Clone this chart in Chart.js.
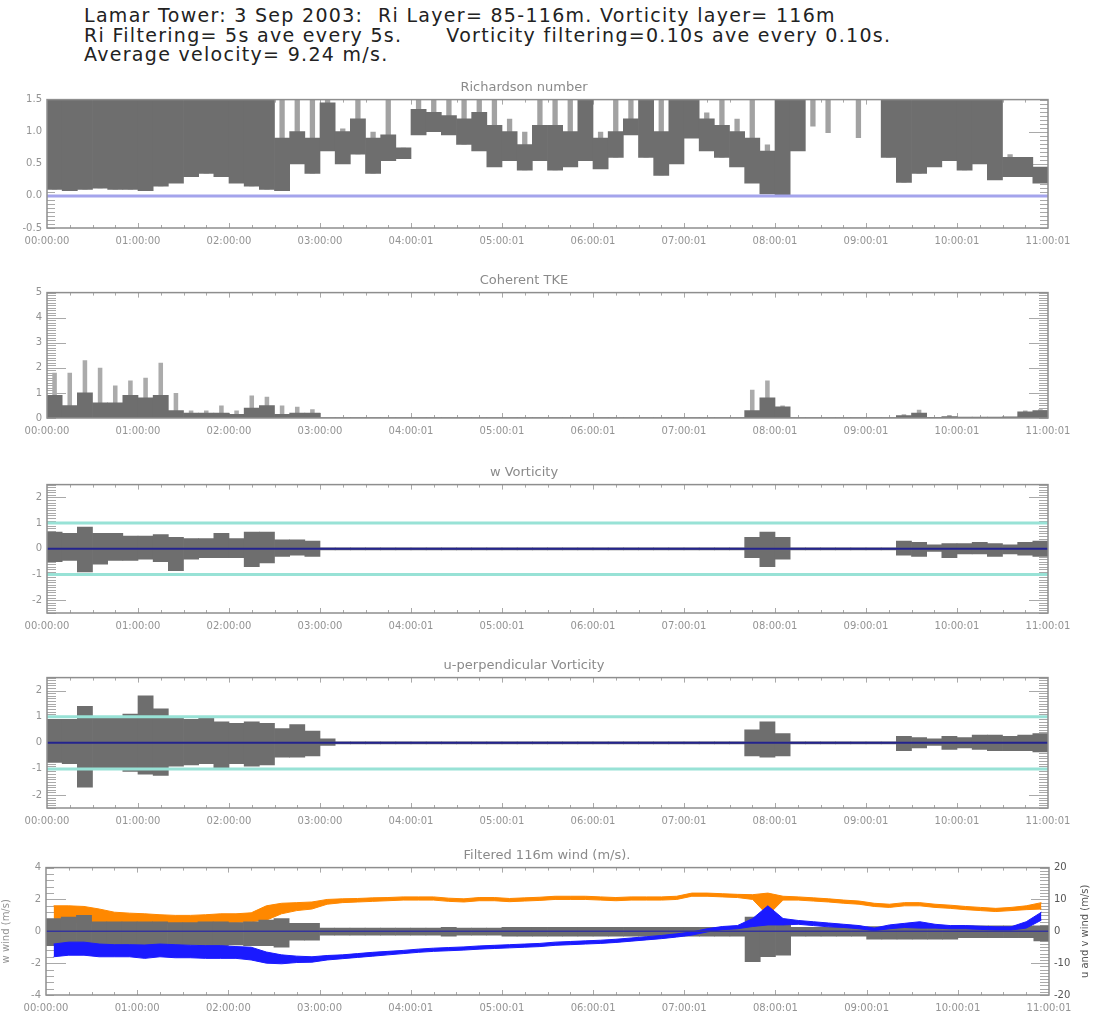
<!DOCTYPE html>
<html>
<head>
<meta charset="utf-8">
<script src="https://cdn.jsdelivr.net/npm/chart.js@4.4.0/dist/chart.umd.min.js"></script>
<style>
  body { margin: 0; background: #fff; width: 1094px; height: 1016px; position: relative; overflow: hidden; font-family: "DejaVu Sans", sans-serif; }
  #header { position: absolute; left: 84px; top: 6px; font-size: 19px; letter-spacing: 1.3px; line-height: 19.5px; color: #222; white-space: pre; }
  .panel { position: absolute; left: 0; width: 1094px; }
</style>
</head>
<body>
<div id="header">Lamar Tower: 3 Sep 2003:  Ri Layer= 85-116m. Vorticity layer= 116m
Ri Filtering= 5s ave every 5s.      Vorticity filtering=0.10s ave every 0.10s.
Average velocity= 9.24 m/s.</div>

<div class="panel" style="top:78px;height:172px"><canvas id="riChart"></canvas></div>
<div class="panel" style="top:271px;height:169px"><canvas id="tkeChart"></canvas></div>
<div class="panel" style="top:463px;height:172px"><canvas id="wvortChart"></canvas></div>
<div class="panel" style="top:656px;height:174px"><canvas id="uvortChart"></canvas></div>
<div class="panel" style="top:846px;height:171px"><canvas id="windChart"></canvas></div>

<script>
var timeLabels = ['00:00:00', '01:00:00', '02:00:00', '03:00:00', '04:00:01', '05:00:01',
                  '06:00:01', '07:00:01', '08:00:01', '09:00:01', '10:00:01', '11:00:01'];
var binHours = 10 / 60;

// Richardson number per bin: lowest value, top of the dense trace, highest spike (clipped at 1.5)
var riLow = [
  0.10, 0.08, 0.10, 0.12, 0.10, 0.10,
  0.08, 0.15, 0.20, 0.30, 0.35, 0.30,
  0.20, 0.15, 0.10, 0.08, 0.50, 0.35,
  0.70, 0.50, 0.65, 0.35, 0.55, 0.58,
  0.95, 1.00, 0.95, 0.80, 0.70, 0.45,
  0.55, 0.40, 0.55, 0.40, 0.45, 0.55,
  0.42, 0.60, 0.95, 0.60, 0.32, 0.50,
  0.90, 0.70, 0.60, 0.45, 0.20, 0.03,
  0.00, 0.70, 1.08, 0.98, null, 0.90,
  null, 0.60, 0.21, 0.35, 0.45, 0.55,
  0.40, 0.50, 0.25, 0.30, 0.30, 0.20
];
var riTyp = [
  1.5, 1.5, 1.5, 1.5, 1.5, 1.5,
  1.5, 1.5, 1.5, 1.5, 1.5, 1.5,
  1.5, 1.5, 1.5, 0.9, 1.0, 0.9,
  1.45, 1.0, 1.2, 0.9, 0.95, 0.75,
  1.35, 1.3, 1.25, 1.2, 1.3, 1.1,
  1.0, 0.8, 1.1, 1.1, 1.0, 1.5,
  0.9, 1.0, 1.2, 1.5, 1.0, 1.5,
  1.5, 1.2, 1.1, 1.0, 0.9, 0.7,
  1.5, 1.5, null, null, null, null,
  null, 1.5, 1.5, 1.5, 1.5, 1.5,
  1.5, 1.5, 1.5, 0.6, 0.6, 0.45
];
var riHigh = [
  1.5, 1.5, 1.5, 1.5, 1.5, 1.5,
  1.5, 1.5, 1.5, 1.5, 1.5, 1.5,
  1.5, 1.5, 1.5, 1.5, 1.5, 1.5,
  1.5, 1.05, 1.5, 1.0, 1.5, 0.75,
  1.5, 1.5, 1.5, 1.5, 1.5, 1.5,
  1.2, 1.0, 1.5, 1.5, 1.5, 1.5,
  1.0, 1.5, 1.5, 1.5, 1.5, 1.5,
  1.5, 1.3, 1.5, 1.2, 1.5, 0.8,
  1.5, 1.5, 1.5, 1.5, null, 1.5,
  null, 1.5, 1.5, 1.5, 1.5, 1.5,
  1.5, 1.5, 1.5, 0.65, 0.6, 0.45
];

// Coherent TKE: bulk level and isolated peaks
var tkeBase = [
  0.9, 0.5, 1.0, 0.6, 0.6, 0.9,
  0.8, 0.9, 0.3, 0.2, 0.2, 0.2,
  0.15, 0.4, 0.5, 0.15, 0.2, 0.2,
  0.02, 0.02, 0.02, 0.02, 0.02, 0.02,
  0.02, 0.02, 0.02, 0.02, 0.02, 0.02,
  0.02, 0.02, 0.02, 0.02, 0.02, 0.02,
  0.02, 0.02, 0.02, 0.02, 0.02, 0.02,
  0.02, 0.02, 0.02, 0.02, 0.3, 0.8,
  0.45, 0.02, 0.02, 0.02, 0.02, 0.02,
  0.02, 0.02, 0.1, 0.2, 0.03, 0.06,
  0.04, 0.04, 0.04, 0.05, 0.25, 0.3
];
var tkePeak = [
  1.8, 1.8, 2.3, 2.0, 1.3, 1.5,
  1.6, 2.2, 1.0, 0.3, 0.3, 0.5,
  0.3, 0.9, 0.85, 0.5, 0.45, 0.35,
  null, null, null, null, null, null,
  null, null, null, null, null, null,
  null, null, null, null, null, null,
  null, null, null, null, null, null,
  null, null, null, null, 1.13, 1.5,
  0.5, null, null, null, null, null,
  null, null, 0.15, 0.33, null, 0.12,
  null, null, null, null, 0.3, 0.35
];

// w vorticity envelope
var wVortHigh = [
  0.65, 0.6, 0.85, 0.6, 0.6, 0.5,
  0.5, 0.55, 0.45, 0.4, 0.4, 0.6,
  0.4, 0.65, 0.65, 0.35, 0.35, 0.3,
  0.04, 0.04, 0.04, 0.04, 0.04, 0.04,
  0.04, 0.04, 0.04, 0.04, 0.04, 0.04,
  0.04, 0.04, 0.04, 0.04, 0.04, 0.04,
  0.04, 0.04, 0.04, 0.04, 0.04, 0.04,
  0.04, 0.04, 0.04, 0.04, 0.45, 0.65,
  0.45, 0.04, 0.04, 0.04, 0.04, 0.04,
  0.04, 0.04, 0.3, 0.25, 0.15, 0.2,
  0.2, 0.25, 0.2, 0.15, 0.25, 0.3
];
var wVortLow = [
  -0.5, -0.45, -0.9, -0.6, -0.45, -0.45,
  -0.4, -0.5, -0.85, -0.4, -0.35, -0.35,
  -0.35, -0.7, -0.55, -0.3, -0.25, -0.3,
  -0.04, -0.04, -0.04, -0.04, -0.04, -0.04,
  -0.04, -0.04, -0.04, -0.04, -0.04, -0.04,
  -0.04, -0.04, -0.04, -0.04, -0.04, -0.04,
  -0.04, -0.04, -0.04, -0.04, -0.04, -0.04,
  -0.04, -0.04, -0.04, -0.04, -0.35, -0.7,
  -0.4, -0.04, -0.04, -0.04, -0.04, -0.04,
  -0.04, -0.04, -0.25, -0.3, -0.1, -0.35,
  -0.2, -0.2, -0.3, -0.2, -0.25, -0.3
];

// u-perpendicular vorticity envelope
var uVortHigh = [
  0.9, 0.9, 1.4, 1.0, 1.0, 1.1,
  1.8, 1.3, 1.0, 0.9, 0.95, 0.8,
  0.75, 0.8, 0.75, 0.55, 0.7, 0.45,
  0.15, 0.04, 0.04, 0.04, 0.04, 0.04,
  0.04, 0.04, 0.04, 0.04, 0.04, 0.04,
  0.04, 0.04, 0.04, 0.04, 0.04, 0.04,
  0.04, 0.04, 0.04, 0.04, 0.04, 0.04,
  0.04, 0.04, 0.04, 0.04, 0.5, 0.8,
  0.35, 0.04, 0.04, 0.04, 0.04, 0.04,
  0.04, 0.04, 0.25, 0.2, 0.15, 0.25,
  0.2, 0.3, 0.3, 0.25, 0.3, 0.35
];
var uVortLow = [
  -0.75, -0.8, -1.7, -1.0, -0.95, -1.1,
  -1.2, -1.25, -0.9, -0.85, -0.8, -1.0,
  -0.8, -0.9, -0.85, -0.55, -0.55, -0.5,
  -0.1, -0.04, -0.04, -0.04, -0.04, -0.04,
  -0.04, -0.04, -0.04, -0.04, -0.04, -0.04,
  -0.04, -0.04, -0.04, -0.04, -0.04, -0.04,
  -0.04, -0.04, -0.04, -0.04, -0.04, -0.04,
  -0.04, -0.04, -0.04, -0.04, -0.5, -0.55,
  -0.5, -0.04, -0.04, -0.04, -0.04, -0.04,
  -0.04, -0.04, -0.3, -0.2, -0.1, -0.25,
  -0.2, -0.25, -0.3, -0.3, -0.3, -0.35
];

// filtered 116m wind: w on left axis, u and v on right axis
var wWindHigh = [
  0.8, 0.9, 1.0, 0.6, 0.6, 0.6,
  0.6, 0.6, 0.55, 0.55, 0.6, 0.6,
  0.55, 0.6, 0.7, 0.8, 0.5, 0.5,
  0.2, 0.2, 0.2, 0.2, 0.2, 0.2,
  0.2, 0.2, 0.25, 0.2, 0.2, 0.2,
  0.25, 0.25, 0.25, 0.25, 0.25, 0.25,
  0.25, 0.25, 0.25, 0.25, 0.25, 0.25,
  0.25, 0.25, 0.25, 0.25, 0.9, 0.7,
  0.5, 0.25, 0.25, 0.25, 0.25, 0.25,
  0.3, 0.3, 0.3, 0.3, 0.3, 0.3,
  0.35, 0.35, 0.35, 0.35, 0.35, 0.35
];
var wWindLow = [
  -0.9, -0.9, -0.9, -0.9, -0.9, -0.85,
  -0.9, -0.9, -0.85, -0.85, -0.9, -0.9,
  -0.85, -0.9, -0.9, -1.0, -0.55, -0.55,
  -0.25, -0.25, -0.25, -0.25, -0.25, -0.25,
  -0.25, -0.25, -0.3, -0.25, -0.25, -0.25,
  -0.3, -0.3, -0.3, -0.3, -0.3, -0.3,
  -0.3, -0.3, -0.3, -0.3, -0.3, -0.3,
  -0.3, -0.3, -0.3, -0.3, -1.9, -1.6,
  -1.5, -0.3, -0.3, -0.3, -0.3, -0.3,
  -0.5, -0.5, -0.5, -0.5, -0.5, -0.5,
  -0.4, -0.4, -0.4, -0.4, -0.4, -0.6
];
var uWindHigh = [
  8.0, 8.0, 7.8, 7.0, 6.0, 5.7,
  5.5, 5.2, 5.0, 5.0, 5.2, 5.5,
  5.5, 5.8, 8.0, 8.8, 9.0, 9.2,
  10.0, 10.2, 10.3, 10.5, 10.6, 10.8,
  10.8, 10.8, 10.4, 10.2, 10.6, 10.6,
  10.3, 10.5, 10.7, 11.0, 11.0, 11.0,
  10.8, 10.6, 10.8, 10.8, 10.8, 11.0,
  12.0, 12.0, 11.8, 11.6, 11.5, 12.0,
  11.0, 10.8, 10.5, 10.2, 9.8, 9.5,
  8.8, 8.5, 9.0, 9.0, 8.5, 8.2,
  7.8, 7.5, 7.2, 7.5, 8.0, 9.0
];
var uWindLow = [
  3.0, 2.8, 2.8, 2.5, 2.5, 2.5,
  2.5, 2.5, 2.6, 2.6, 2.6, 2.8,
  2.8, 3.0, 3.5, 5.5, 6.5, 7.0,
  8.5, 9.0, 9.2, 9.4, 9.6, 9.8,
  9.8, 9.8, 9.4, 9.2, 9.6, 9.6,
  9.3, 9.5, 9.7, 10.0, 10.0, 10.0,
  9.8, 9.6, 9.8, 9.8, 9.8, 10.0,
  11.0, 11.0, 10.8, 10.6, 10.0, 5.0,
  9.8, 9.8, 9.5, 9.2, 8.8, 8.5,
  7.8, 7.5, 8.0, 8.0, 7.5, 7.2,
  6.8, 6.5, 6.2, 6.5, 6.8, 7.0
];
var vWindHigh = [
  -4.0, -3.4, -3.4, -4.0, -4.2, -4.2,
  -4.3, -4.0, -4.2, -4.4, -4.5, -4.5,
  -4.8, -5.0, -6.5, -7.4, -7.8, -8.0,
  -7.6, -7.4, -7.0, -6.6, -6.3, -6.0,
  -5.6, -5.3, -5.1, -4.9, -4.6, -4.4,
  -4.2, -4.0, -3.8, -3.4, -3.2, -3.0,
  -2.8, -2.5, -2.1, -1.7, -1.3, -0.8,
  -0.2, 0.8, 1.5, 1.8, 4.0, 8.0,
  4.0, 3.4, 3.0, 2.6, 2.2, 1.8,
  1.0, 2.0, 2.5, 3.0, 2.2, 1.8,
  1.8, 1.6, 1.4, 1.4, 3.0, 6.0
];
var vWindLow = [
  -8.0, -7.5, -7.5, -8.0, -8.0, -8.0,
  -8.5, -8.0, -8.3, -8.3, -8.5, -8.5,
  -8.5, -9.0, -10.0, -10.2, -9.8, -9.7,
  -9.0, -8.6, -8.2, -7.8, -7.4, -7.0,
  -6.6, -6.3, -6.1, -5.9, -5.6, -5.4,
  -5.2, -5.0, -4.8, -4.4, -4.2, -4.0,
  -3.8, -3.5, -3.1, -2.7, -2.3, -1.8,
  -1.2, -0.2, 0.5, 0.8, 1.5, 2.0,
  2.0, 2.2, 1.8, 1.4, 1.2, 0.8,
  0.2, 0.8, 1.2, 1.0, 1.0, 0.8,
  0.8, 0.6, 0.4, 0.4, 1.0, 3.5
];

// y tick labels
var riTicks = [-0.5, 0.0, 0.5, 1.0, 1.5];
var tkeTicks = [0, 1, 2, 3, 4, 5];
var vortTicks = [-2, -1, 0, 1, 2];
var wTicks = [-4, -2, 0, 2, 4];
var uvTicks = [-20, -10, 0, 10, 20];

var GRAY = '#6e6e6e';
var LABEL = '#939393';
var FONT = '"DejaVu Sans", sans-serif';

function ranges(lo, hi) {
  var out = [];
  lo.forEach(function(v, i) {
    if (v !== null && hi[i] !== null) out.push({x: (i + 0.5) * binHours, y: [v, hi[i]]});
  });
  return out;
}
function heights(vals) {
  var out = [];
  vals.forEach(function(v, i) {
    if (v !== null) out.push({x: (i + 0.5) * binHours, y: v});
  });
  return out;
}
function points(vals) {
  return vals.map(function(v, i) { return {x: (i + 0.5) * binHours, y: v}; });
}
function level(v) {
  return [{x: 0, y: v}, {x: 11, y: v}];
}

// IDL style box: inward ticks on all sides
var idlFrame = {
  id: 'idlFrame',
  beforeDatasetsDraw: function(chart, args, opts) {
    var ctx = chart.ctx, a = chart.chartArea, scales = chart.scales;
    function seg(x1, y1, x2, y2) { ctx.beginPath(); ctx.moveTo(x1, y1); ctx.lineTo(x2, y2); ctx.stroke(); }
    ctx.save();
    ctx.lineWidth = 1;
    ctx.strokeStyle = '#a9a9a9';
    for (var m = 15; m < 660; m += 15) {
      var px = Math.round(scales.x.getPixelForValue(m / 60)) + 0.5;
      var len = m % 60 === 0 ? 5 : 3;
      seg(px, a.bottom, px, a.bottom - len);
      seg(px, a.top, px, a.top + len);
    }
    (opts.sides || []).forEach(function(s) {
      var sc = scales[s.scale];
      var x0 = s.side === 'left' ? a.left : a.right;
      var dir = s.side === 'left' ? 1 : -1;
      for (var k = 0; ; k++) {
        var v = sc.min + k * s.minor;
        if (v > sc.max + 1e-9) break;
        var py = Math.round(sc.getPixelForValue(v)) + 0.5;
        seg(x0, py, x0 + dir * s.minorLen, py);
      }
      s.major.forEach(function(v) {
        var py = Math.round(sc.getPixelForValue(v)) + 0.5;
        seg(x0, py, x0 + dir * s.majorLen, py);
      });
    });
    ctx.restore();
  },
  afterDatasetsDraw: function(chart) {
    var ctx = chart.ctx, a = chart.chartArea;
    ctx.save();
    ctx.strokeStyle = '#8e8e8e';
    ctx.lineWidth = 1.5;
    ctx.strokeRect(a.left, a.top, a.right - a.left, a.bottom - a.top);
    ctx.restore();
  }
};

// right axis title reads bottom to top like the left one
var rightTitle = {
  id: 'rightTitle',
  afterDraw: function(chart, args, opts) {
    if (!opts.text) return;
    var ctx = chart.ctx, a = chart.chartArea;
    ctx.save();
    ctx.translate(opts.x, (a.top + a.bottom) / 2);
    ctx.rotate(-Math.PI / 2);
    ctx.fillStyle = opts.color;
    ctx.font = '10px ' + FONT;
    ctx.textAlign = 'center';
    ctx.textBaseline = 'middle';
    ctx.fillText(opts.text, 0, 0);
    ctx.restore();
  }
};

function xAxis() {
  return {
    type: 'linear', min: 0, max: 11, offset: false,
    grid: {display: false, drawTicks: false}, border: {display: false},
    afterBuildTicks: function(s) { s.ticks = timeLabels.map(function(_, i) { return {value: i}; }); },
    afterFit: function(s) { s.height = 22; },
    ticks: {
      color: LABEL, font: {size: 10, family: FONT}, padding: 7, maxRotation: 0, autoSkip: false,
      callback: function(v) { return timeLabels[Math.round(v)]; }
    }
  };
}
function yAxis(min, max, ticks, decimals, width, extra) {
  var ax = {
    type: 'linear', min: min, max: max,
    grid: {display: false, drawTicks: false}, border: {display: false},
    afterBuildTicks: function(s) { s.ticks = ticks.map(function(v) { return {value: v}; }); },
    afterFit: function(s) { s.width = width; },
    ticks: {
      color: LABEL, font: {size: 10, family: FONT}, padding: 5,
      callback: function(v) { return v.toFixed(decimals); }
    }
  };
  return Object.assign(ax, extra || {});
}
function titleOpts(text) {
  return {display: true, text: text, color: '#8a8a8a', font: {size: 13, weight: 'normal', family: FONT}, padding: {top: 2, bottom: 4}};
}
function barSet(data, color, pct, order) {
  return {type: 'bar', data: data, backgroundColor: color, borderWidth: 0, grouped: false,
          barPercentage: pct, categoryPercentage: 1, order: order};
}
function lineSet(data, color, width, order, extra) {
  return Object.assign({type: 'line', data: data, borderColor: color, borderWidth: width,
          pointRadius: 0, tension: 0, fill: false, order: order}, extra || {});
}
function baseOptions(title, scales, sides, padRight) {
  return {
    responsive: true, maintainAspectRatio: false, animation: false, devicePixelRatio: 1,
    layout: {padding: {left: 0, right: padRight, top: 0, bottom: 0}},
    plugins: {legend: {display: false}, tooltip: {enabled: false}, title: titleOpts(title), idlFrame: {sides: sides}},
    scales: scales
  };
}

Chart.register(idlFrame, rightTitle);

// Richardson number
new Chart(document.getElementById('riChart'), {
  data: {datasets: [
    lineSet(level(0), '#a4a4ec', 3, 1),
    barSet(ranges(riLow, riTyp), GRAY, 1, 2),
    barSet(ranges(riLow, riHigh), '#a2a2a2', 0.35, 3)
  ]},
  options: baseOptions('Richardson number',
    {x: xAxis(), y: yAxis(-0.5, 1.5, riTicks, 1, 47)},
    [{scale: 'y', side: 'left', minor: 0.0625, minorLen: 8, major: riTicks, majorLen: 8},
     {scale: 'y', side: 'right', minor: 0.0625, minorLen: 8, major: [0.5, 1.0], majorLen: 19}], 46)
});

// Coherent TKE
new Chart(document.getElementById('tkeChart'), {
  data: {datasets: [
    barSet(heights(tkeBase), GRAY, 1, 1),
    barSet(heights(tkePeak), '#ababab', 0.3, 2)
  ]},
  options: baseOptions('Coherent TKE',
    {x: xAxis(), y: yAxis(0, 5, tkeTicks, 0, 47)},
    [{scale: 'y', side: 'left', minor: 0.1, minorLen: 9, major: [1, 2, 3, 4], majorLen: 19},
     {scale: 'y', side: 'right', minor: 0.1, minorLen: 9, major: [1, 2, 3, 4], majorLen: 19}], 46)
});

function vortChart(id, title, lo, hi) {
  return new Chart(document.getElementById(id), {
    data: {datasets: [
      lineSet(level(0), '#24248e', 2, 1),
      lineSet(level(1), '#98e2d6', 3, 2),
      lineSet(level(-1), '#98e2d6', 3, 2),
      barSet(ranges(lo, hi), GRAY, 1, 3)
    ]},
    options: baseOptions(title,
      {x: xAxis(), y: yAxis(-2.5, 2.5, vortTicks, 0, 47)},
      [{scale: 'y', side: 'left', minor: 0.1, minorLen: 9, major: [-2, -1, 1, 2], majorLen: 19},
       {scale: 'y', side: 'right', minor: 0.1, minorLen: 9, major: [-2, -1, 1, 2], majorLen: 19}], 46)
  });
}
vortChart('wvortChart', 'w Vorticity', wVortLow, wVortHigh);
vortChart('uvortChart', 'u-perpendicular Vorticity', uVortLow, uVortHigh);

// Filtered wind
var windOpts = baseOptions('Filtered 116m wind (m/s).', {
    x: xAxis(),
    y: yAxis(-4, 4, wTicks, 0, 46, {position: 'left',
      title: {display: true, text: 'w wind (m/s)', color: LABEL, font: {size: 10, family: FONT}, padding: {top: 0, bottom: 4}}}),
    y2: yAxis(-20, 20, uvTicks, 0, 45, {position: 'right'})
  },
  [{scale: 'y', side: 'left', minor: 0.4, minorLen: 8, major: [-2, 0, 2], majorLen: 20},
   {scale: 'y2', side: 'right', minor: 1, minorLen: 9, major: [-10, 10], majorLen: 18}], 0);
windOpts.scales.y2.ticks.color = '#555';
windOpts.plugins.rightTitle = {text: 'u and v wind (m/s)', x: 1085, color: '#555'};

new Chart(document.getElementById('windChart'), {
  data: {datasets: [
    lineSet(level(0), '#34349c', 1.5, 1),
    lineSet(points(vWindHigh), '#1a1aff', 1, 2, {yAxisID: 'y2'}),
    lineSet(points(vWindLow), '#1a1aff', 1, 2, {yAxisID: 'y2', fill: '-1', backgroundColor: '#1a1aff'}),
    barSet(ranges(wWindLow, wWindHigh), GRAY, 1, 3),
    lineSet(points(uWindHigh), '#ff8800', 1, 4, {yAxisID: 'y2'}),
    lineSet(points(uWindLow), '#ff8800', 1, 4, {yAxisID: 'y2', fill: '-1', backgroundColor: '#ff8800'})
  ]},
  options: windOpts
});
</script>
</body>
</html>
